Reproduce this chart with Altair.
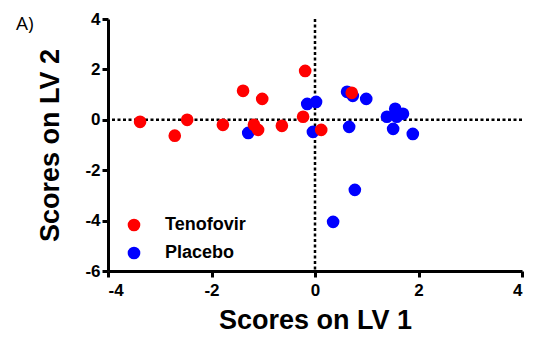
import altair as alt
import pandas as pd

tenofovir_x = [-3.38, -2.47, -2.71, -1.78, -0.19, -1.39, -1.02, -1.18, -1.10, -0.64, -0.23, 0.12, 0.71]
tenofovir_y = [-0.08, 0.00, -0.63, -0.20, 1.94, 1.15, 0.83, -0.20, -0.40, -0.24, 0.12, -0.40, 1.07]
placebo_x = [-1.29, -0.15, 0.02, -0.04, 0.62, 0.73, 0.99, 0.66, 1.55, 1.39, 1.70, 1.58, 1.51, 1.89, 0.77, 0.35]
placebo_y = [-0.52, 0.63, 0.71, -0.48, 1.11, 0.95, 0.83, -0.28, 0.44, 0.12, 0.24, 0.12, -0.36, -0.56, -2.78, -4.05]
groups = ["Tenofovir", "Placebo"]
colors = ["#ff0000", "#0000ff"]
x_ticks = [-4, -2, 0, 2, 4]
y_ticks = [-6, -4, -2, 0, 2, 4]
panel_label = ["A)"]

rows = []
for x, y in zip(placebo_x, placebo_y):
    rows.append({"x": x, "y": y, "group": "Placebo", "order": 0})
for x, y in zip(tenofovir_x, tenofovir_y):
    rows.append({"x": x, "y": y, "group": "Tenofovir", "order": 1})
df = pd.DataFrame(rows)

FONT = "Liberation Sans"

xscale = alt.Scale(domain=[-4, 4], nice=False, zero=False)
yscale = alt.Scale(domain=[-6, 4], nice=False, zero=False)

xaxis = alt.Axis(values=x_ticks, title="Scores on LV 1", grid=False, domainWidth=3, domainColor="black",
                 tickWidth=3, tickColor="black", tickSize=6, labelFont=FONT, labelFontSize=17,
                 labelFontWeight="bold", labelColor="black", labelPadding=5, titleFont=FONT,
                 labelExpr="toString(datum.value)",
                 titleFontSize=27, titleFontWeight="bold", titleColor="black", titlePadding=9)
yaxis = alt.Axis(values=y_ticks, title="Scores on LV 2", grid=False, domainWidth=3, domainColor="black",
                 tickWidth=3, tickColor="black", tickSize=6, labelFont=FONT, labelFontSize=17,
                 labelFontWeight="bold", labelColor="black", labelPadding=2, titleFont=FONT,
                 labelExpr="toString(datum.value)",
                 titleFontSize=27, titleFontWeight="bold", titleColor="black", titlePadding=20)

vrule = alt.Chart(pd.DataFrame({"x": [0]})).mark_rule(
    color="black", strokeWidth=2.5, strokeDash=[3, 2.5]
).encode(x=alt.X("x:Q", scale=xscale, axis=xaxis))
hrule = alt.Chart(pd.DataFrame({"y": [0]})).mark_rule(
    color="black", strokeWidth=2.5, strokeDash=[3, 2.5]
).encode(y=alt.Y("y:Q", scale=yscale, axis=yaxis))

points = alt.Chart(df).mark_circle(size=160, opacity=1).encode(
    x=alt.X("x:Q", scale=xscale, axis=xaxis),
    y=alt.Y("y:Q", scale=yscale, axis=yaxis),
    color=alt.Color("group:N", scale=alt.Scale(domain=groups, range=colors),
                    legend=alt.Legend(title=None, orient="none", legendX=17, legendY=197,
                                      symbolType="circle", symbolSize=160, symbolStrokeWidth=0,
                                      labelFont=FONT, labelFontSize=18, labelFontWeight="bold",
                                      labelColor="black", labelOffset=22, rowPadding=10)),
    order=alt.Order("order:Q"),
)

label = alt.Chart(pd.DataFrame({"t": panel_label})).mark_text(
    font="Open Sans", fontSize=19, align="left", baseline="alphabetic", color="black"
).encode(text="t:N", x=alt.value(-92), y=alt.value(11))

chart = alt.layer(vrule, hrule, points, label).properties(
    width=414, height=252,
    autosize=alt.AutoSizeParams(type="none"),
    padding={"left": 100, "top": 11, "right": 5, "bottom": 64},
).configure_view(stroke=None)

chart.save("out.html", embed_options={"renderer": "svg", "actions": False})
